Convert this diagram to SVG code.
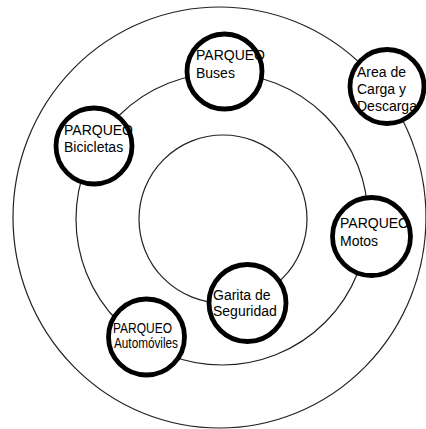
<svg xmlns="http://www.w3.org/2000/svg" width="426" height="429" viewBox="0 0 426 429">
<style>
.ring{fill:none;stroke:#222;stroke-width:1.2}
.nodebg{fill:#fff;stroke:none}
.node{fill:none;stroke:#000;stroke-width:4.8}
text{font-family:"Liberation Sans",Arial,sans-serif;font-size:14px;fill:#000}
</style>
<rect width="426" height="429" fill="#fff"/>
<g id="connectors">
<ellipse class="ring" cx="219.5" cy="217.5" rx="206.5" ry="210.5"/>
<circle class="ring" cx="222" cy="219" r="146"/>
<circle class="ring" cx="223" cy="219" r="84"/>
</g>
<g id="buses">
<circle class="nodebg" cx="224.5" cy="71.5" r="37.5"/>
<text x="196" y="60">PARQUEO</text>
<text x="196" y="78">Buses</text>
<circle class="node" cx="224.5" cy="71.5" r="37.5"/>
</g>
<g id="area-carga">
<circle class="nodebg" cx="387" cy="86.5" r="37"/>
<text x="357" y="77">Area de</text>
<text x="357" y="94">Carga y</text>
<text x="357" y="111">Descarga</text>
<circle class="node" cx="387" cy="86.5" r="37"/>
</g>
<g id="bicicletas">
<circle class="nodebg" cx="94" cy="146" r="38"/>
<text x="64" y="135">PARQUEO</text>
<text x="64" y="152">Bicicletas</text>
<circle class="node" cx="94" cy="146" r="38"/>
</g>
<g id="motos">
<circle class="nodebg" cx="371.5" cy="236.5" r="39"/>
<text x="340" y="228">PARQUEO</text>
<text x="340" y="246">Motos</text>
<circle class="node" cx="371.5" cy="236.5" r="39"/>
</g>
<g id="garita">
<circle class="nodebg" cx="247.5" cy="303" r="38.5"/>
<text x="213" y="300">Garita de</text>
<text x="213" y="316">Seguridad</text>
<circle class="node" cx="247.5" cy="303" r="38.5"/>
</g>
<g id="automoviles">
<circle class="nodebg" cx="146.5" cy="337" r="38"/>
<text x="113" y="333" textLength="59" lengthAdjust="spacingAndGlyphs">PARQUEO</text>
<text x="114" y="348" textLength="64" lengthAdjust="spacingAndGlyphs">Automóviles</text>
<circle class="node" cx="146.5" cy="337" r="38"/>
</g>
</svg>
